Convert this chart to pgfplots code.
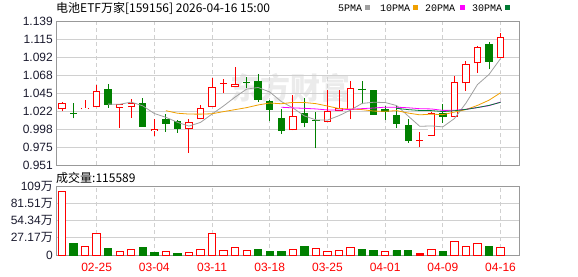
\documentclass[border=0pt]{standalone}
\usepackage{fontspec}
\setmainfont{Liberation Sans}
\newfontfamily\cjk{Noto Sans CJK SC}
\newfontfamily\legfont{Liberation Mono}
\usepackage{pgfplots}
\pgfplotsset{compat=1.18}

\definecolor{upred}{HTML}{FF0000}
\definecolor{dngreen}{HTML}{008000}
\definecolor{ma5}{HTML}{A0A0A0}
\definecolor{ma10}{HTML}{F0A000}
\definecolor{ma20}{HTML}{FF00FF}
\definecolor{ma30}{HTML}{007A33}
\definecolor{framec}{HTML}{999999}
\definecolor{gridc}{HTML}{D0D0D0}
\definecolor{tickc}{HTML}{1A1A2E}

% x, open, high, low, close  (rising candle: hollow red)
\newcommand{\upc}[5]{%
 \addplot[upred, line width=0.9pt, mark=none] coordinates {(#1,#4) (#1,#3)};
 \addplot[upred, line width=7.4pt, mark=none] coordinates {(#1,#2) (#1,#5)};
 \addplot[white, line width=5.6pt, mark=none, shorten <=0.9pt, shorten >=0.9pt] coordinates {(#1,#2) (#1,#5)};}
% rising doji (body too thin to be hollow)
\newcommand{\upd}[5]{%
 \addplot[upred, line width=0.9pt, mark=none] coordinates {(#1,#4) (#1,#3)};
 \addplot[upred, line width=7.4pt, mark=none] coordinates {(#1,#2) (#1,#5)};}
% x, open, high, low, close  (falling candle: filled green)
\newcommand{\dnc}[5]{%
 \addplot[dngreen, line width=0.9pt, mark=none] coordinates {(#1,#4) (#1,#3)};
 \addplot[dngreen, line width=7.4pt, mark=none] coordinates {(#1,#2) (#1,#5)};}

\pgfplotsset{kstyle/.style={
  scale only axis, width=463pt,
  xmin=-0.52, xmax=39.6,
  axis line style={draw=framec, line width=0.9pt},
  major tick length=0pt, tick style={draw=none},
  xmajorgrids, ymajorgrids,
  x grid style={draw=gridc, dash pattern=on 4pt off 3pt, line width=0.9pt},
  y grid style={draw=gridc, line width=0.9pt},
  ticklabel style={font=\fontsize{12}{12}\selectfont},
  yticklabel style={inner sep=0pt, text=tickc, xshift=-3pt},
  xticklabel style={inner sep=0pt},
  xtick={3,8,13,18,23,28,33,38},
}}

\begin{document}
\begin{tikzpicture}
\useasboundingbox (0,0) rectangle (578pt,276pt);
\node[text=black!8, font=\cjk\bfseries\fontsize{30}{30}\selectfont] at (290pt,188pt) {东方财富};

\begin{axis}[kstyle, at={(56pt,111pt)}, anchor=south west, height=144pt,
  ymin=0.951, ymax=1.139,
  xticklabels={},
  ytick={0.951,0.9745,0.998,1.0215,1.045,1.0685,1.092,1.1155,1.139},
  yticklabels={0.951,0.975,0.998,1.022,1.045,1.068,1.092,1.115,1.139},
]
\upc{0}{1.0237}{1.0333}{1.0211}{1.0315}
\dnc{1}{1.0190}{1.0315}{1.0120}{1.0180}
\upc{2}{1.0237}{1.0359}{1.0237}{1.0258}
\upc{3}{1.0263}{1.0554}{1.0263}{1.0476}
\dnc{4}{1.0502}{1.0567}{1.0258}{1.0297}
\upc{5}{1.0258}{1.0306}{0.9997}{1.0306}
\upc{6}{1.0263}{1.0368}{1.0130}{1.0319}
\dnc{7}{1.0319}{1.0381}{1.0010}{1.0010}
\upc{8}{0.9950}{1.0107}{0.9893}{0.9980}
\dnc{9}{1.0110}{1.0172}{0.9945}{1.0049}
\dnc{10}{1.0080}{1.0098}{0.9932}{0.9984}
\upc{11}{0.9980}{1.0110}{0.9670}{1.0067}
\upc{12}{1.0107}{1.0293}{1.0107}{1.0250}
\upc{13}{1.0263}{1.0646}{1.0263}{1.0524}
\upd{14}{1.0573}{1.0629}{1.0454}{1.0580}
\upc{15}{1.0524}{1.0786}{1.0524}{1.0564}
\dnc{16}{1.0595}{1.0663}{1.0519}{1.0585}
\dnc{17}{1.0607}{1.0698}{1.0336}{1.0359}
\dnc{18}{1.0346}{1.0359}{1.0084}{1.0228}
\dnc{19}{1.0124}{1.0241}{0.9919}{0.9958}
\upc{20}{0.9963}{1.0420}{0.9963}{1.0150}
\dnc{21}{1.0189}{1.0381}{1.0002}{1.0062}
\dnc{22}{1.0103}{1.0202}{0.9728}{1.0095}
\upc{23}{1.0075}{1.0489}{1.0075}{1.0215}
\upc{24}{1.0219}{1.0489}{1.0219}{1.0250}
\upc{25}{1.0228}{1.0607}{1.0107}{1.0511}
\dnc{26}{1.0508}{1.0607}{1.0302}{1.0500}
\dnc{27}{1.0489}{1.0489}{1.0167}{1.0167}
\dnc{28}{1.0241}{1.0276}{1.0098}{1.0202}
\dnc{29}{1.0159}{1.0284}{0.9990}{1.0049}
\dnc{30}{1.0032}{1.0107}{0.9801}{0.9827}
\upd{31}{0.9823}{0.9937}{0.9749}{0.9830}
\upc{32}{0.9893}{1.0202}{0.9893}{1.0193}
\dnc{33}{1.0193}{1.0302}{1.0062}{1.0141}
\upc{34}{1.0141}{1.0672}{1.0141}{1.0590}
\upc{35}{1.0577}{1.0868}{1.0480}{1.0829}
\upc{36}{1.0838}{1.1068}{1.0715}{1.1047}
\dnc{37}{1.1090}{1.1116}{1.0763}{1.0851}
\upc{38}{1.0903}{1.1230}{1.0903}{1.1177}

\addplot[ma5, line width=0.8pt, mark=none] coordinates {
(4,1.0305) (5,1.0303) (6,1.0331) (7,1.0282) (8,1.0182) (9,1.0133) (10,1.0068)
(11,1.0018) (12,1.0066) (13,1.0175) (14,1.0281) (15,1.0397) (16,1.0501) (17,1.0522)
(18,1.0463) (19,1.0339) (20,1.0256) (21,1.0151) (22,1.0099) (23,1.0096) (24,1.0154)
(25,1.0227) (26,1.0314) (27,1.0329) (28,1.0326) (29,1.0286) (30,1.0149) (31,1.0015)
(32,1.0020) (33,1.0008) (34,1.0116) (35,1.0317) (36,1.0560) (37,1.0692) (38,1.0899)};
\addplot[ma10, line width=0.8pt, mark=none] coordinates {
(9,1.0219) (10,1.0186) (11,1.0175) (12,1.0174) (13,1.0179) (14,1.0207) (15,1.0233)
(16,1.0259) (17,1.0294) (18,1.0319) (19,1.0310) (20,1.0327) (21,1.0326) (22,1.0311)
(23,1.0280) (24,1.0247) (25,1.0241) (26,1.0233) (27,1.0214) (28,1.0211) (29,1.0220)
(30,1.0188) (31,1.0165) (32,1.0174) (33,1.0167) (34,1.0201) (35,1.0233) (36,1.0288)
(37,1.0356) (38,1.0453)};
\addplot[ma20, line width=0.8pt, mark=none] coordinates {
(19,1.0264) (20,1.0256) (21,1.0250) (22,1.0242) (23,1.0229) (24,1.0227) (25,1.0237)
(26,1.0246) (27,1.0254) (28,1.0265) (29,1.0265) (30,1.0257) (31,1.0245) (32,1.0242)
(33,1.0223) (34,1.0224) (35,1.0237) (36,1.0260) (37,1.0285) (38,1.0332)};
\addplot[ma30, line width=0.8pt, mark=none] coordinates {
(29,1.0250) (30,1.0233) (31,1.0222) (32,1.0220) (33,1.0208) (34,1.0218) (35,1.0236)
(36,1.0260) (37,1.0288) (38,1.0328)};
\end{axis}

\begin{axis}[kstyle, at={(56pt,21pt)}, anchor=south west, height=69pt,
  ymin=0, ymax=108.68,
  ytick={0,27.17,54.34,81.51,108.68},
  yticklabels={0,27.17{\cjk 万},54.34{\cjk 万},81.51{\cjk 万},109{\cjk 万}},
  xticklabels={02-25,03-04,03-11,03-18,03-25,04-01,04-09,04-16},
  xticklabel style={text=upred, yshift=-8pt},
]
\addplot[ybar, bar width=0.64, bar shift=0pt, draw=upred, fill=white, line width=0.9pt] coordinates {
(0,100.8) (2,14.2) (3,34.7) (5,6.3) (6,9.5) (9,6.3) (11,4.7) (12,9.5) (13,34.7)
(14,7.9) (15,12.6) (16,7.9) (20,9.5) (22,11.0) (23,6.3) (24,7.9) (25,12.6) (28,6.3)
(32,9.5) (34,22.1) (35,14.2) (36,18.9) (38,11.56)};
\addplot[ybar, bar width=0.64, bar shift=0pt, draw=upred, fill=upred, line width=0.9pt] coordinates {
(31,3.2)};
\addplot[ybar, bar width=0.64, bar shift=0pt, draw=dngreen, fill=dngreen, line width=0.9pt] coordinates {
(1,17.8) (4,11.0) (7,11.5) (8,3.7) (10,2.1) (17,8.4) (18,5.2) (19,5.2) (21,13.1)
(26,8.4) (27,6.8) (29,6.8) (30,6.8) (33,5.2) (37,13.1)};
\end{axis}

\node[anchor=west, inner sep=0pt, font=\cjk\fontsize{12}{12}\selectfont] at (56pt,268pt) {电池ETF万家[159156] 2026-04-16 15:00};
\node[anchor=west, inner sep=0pt, font=\cjk\fontsize{12}{12}\selectfont] at (56pt,98pt) {成交量:115589};

\node[anchor=west, inner sep=0pt, font=\legfont\fontsize{10}{10}\selectfont] at (338pt,268pt) {5PMA};
\fill[ma5] (365pt,265.5pt) rectangle (370pt,270.5pt);
\node[anchor=west, inner sep=0pt, font=\legfont\fontsize{10}{10}\selectfont] at (380pt,268pt) {10PMA};
\fill[ma10] (413pt,265.5pt) rectangle (418pt,270.5pt);
\node[anchor=west, inner sep=0pt, font=\legfont\fontsize{10}{10}\selectfont] at (425pt,268pt) {20PMA};
\fill[ma20] (460pt,265.5pt) rectangle (465pt,270.5pt);
\node[anchor=west, inner sep=0pt, font=\legfont\fontsize{10}{10}\selectfont] at (472pt,268pt) {30PMA};
\fill[ma30] (505pt,265.5pt) rectangle (510pt,270.5pt);
\end{tikzpicture}
\end{document}
